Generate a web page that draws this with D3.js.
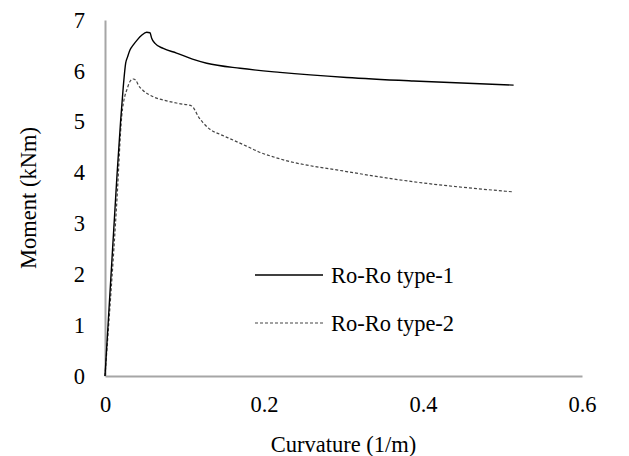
<!DOCTYPE html>
<html>
<head>
<meta charset="utf-8">
<script src="https://cdn.jsdelivr.net/npm/d3@7/dist/d3.min.js"></script>
<style>
  html, body { margin: 0; padding: 0; background: #fff; }
  svg text { font-family: "Liberation Serif", "Times New Roman", serif; fill: #000; }
</style>
</head>
<body>
<svg id="chart" width="629" height="456"></svg>
<script>
const xTicks = [0, 0.2, 0.4, 0.6];
const yTicks = [0, 1, 2, 3, 4, 5, 6, 7];
const seriesNames = ["Ro-Ro type-1", "Ro-Ro type-2"];

const type1X = [0, 0.0147, 0.0197, 0.0230, 0.0260, 0.0285, 0.0314, 0.0356, 0.0406, 0.0461, 0.0524, 0.0566, 0.0587, 0.0629, 0.0733, 0.090, 0.110, 0.128, 0.170, 0.220, 0.304, 0.388, 0.514];
const type1Y = [0, 3.85, 5.03, 5.69, 6.15, 6.28, 6.41, 6.51, 6.61, 6.70, 6.76, 6.75, 6.64, 6.54, 6.44, 6.35, 6.23, 6.15, 6.05, 5.97, 5.87, 5.80, 5.72];

const type2X = [0, 0.0150, 0.0210, 0.0252, 0.0273, 0.0314, 0.0356, 0.0390, 0.0419, 0.0482, 0.0608, 0.0776, 0.0922, 0.109, 0.113, 0.1174, 0.124, 0.132, 0.145, 0.161, 0.178, 0.193, 0.220, 0.304, 0.388, 0.514];
const type2Y = [0, 3.46, 5.10, 5.52, 5.62, 5.79, 5.84, 5.81, 5.72, 5.61, 5.49, 5.41, 5.36, 5.31, 5.23, 5.10, 4.97, 4.85, 4.75, 4.64, 4.52, 4.41, 4.27, 4.02, 3.82, 3.62];

const W = 629, H = 456;
const margin = { left: 105, right: 47, top: 20, bottom: 80 };
const svg = d3.select("#chart");
const serif = '"Liberation Serif", "Times New Roman", serif';

const x = d3.scaleLinear().domain([0, 0.6]).range([margin.left, W - margin.right]);
const y = d3.scaleLinear().domain([0, 7]).range([H - margin.bottom, margin.top]);

const fontSize = 22.5;

// X axis
const xAxis = svg.append("g")
  .attr("transform", `translate(0,${y(0)})`)
  .call(d3.axisBottom(x).tickValues(xTicks).tickSize(0).tickPadding(20)
    .tickFormat(d => d === 0 ? "0" : d3.format(".1f")(d)));
xAxis.attr("font-family", serif).attr("font-size", fontSize);
xAxis.select(".domain").attr("stroke", "#a6a6a6").attr("stroke-width", 2);
xAxis.selectAll("text").style("font-family", serif).style("font-size", fontSize + "px").attr("fill", "#000");

// Y axis
const yAxis = svg.append("g")
  .attr("transform", `translate(${x(0)},0)`)
  .call(d3.axisLeft(y).tickValues(yTicks).tickSize(0).tickPadding(20).tickFormat(d3.format("d")));
yAxis.attr("font-family", serif).attr("font-size", fontSize);
yAxis.select(".domain").attr("stroke", "#a6a6a6").attr("stroke-width", 2);
yAxis.selectAll("text").style("font-family", serif).style("font-size", fontSize + "px").attr("fill", "#000");

// Lines
const line = d3.line().x(d => x(d[0])).y(d => y(d[1])).curve(d3.curveMonotoneX);
const s1 = type1X.map((v, i) => [v, type1Y[i]]);
const s2 = type2X.map((v, i) => [v, type2Y[i]]);

svg.append("path").datum(s2).attr("d", line)
  .attr("fill", "none").attr("stroke", "#444").attr("stroke-width", 1.2)
  .attr("stroke-dasharray", "3,2");
svg.append("path").datum(s1).attr("d", line)
  .attr("fill", "none").attr("stroke", "#000").attr("stroke-width", 1.4);

// Legend
const legendY = [275, 323];
const legend = svg.append("g");
seriesNames.forEach((name, i) => {
  legend.append("line")
    .attr("x1", 255).attr("x2", 323).attr("y1", legendY[i]).attr("y2", legendY[i])
    .attr("stroke", i === 0 ? "#000" : "#444")
    .attr("stroke-width", i === 0 ? 1.4 : 1.2)
    .attr("stroke-dasharray", i === 0 ? null : "3,2");
  legend.append("text")
    .attr("x", 331).attr("y", legendY[i] + 8)
    .style("font-family", serif).style("font-size", fontSize + "px")
    .text(name);
});

// Axis titles
svg.append("text")
  .attr("x", (x(0) + x(0.6)) / 2).attr("y", 452)
  .attr("text-anchor", "middle")
  .style("font-family", serif).style("font-size", fontSize + "px")
  .text("Curvature (1/m)");
svg.append("text")
  .attr("transform", `translate(36,${(y(0) + y(7)) / 2}) rotate(-90)`)
  .attr("text-anchor", "middle")
  .style("font-family", serif).style("font-size", fontSize + "px")
  .text("Moment (kNm)");
</script>
</body>
</html>
